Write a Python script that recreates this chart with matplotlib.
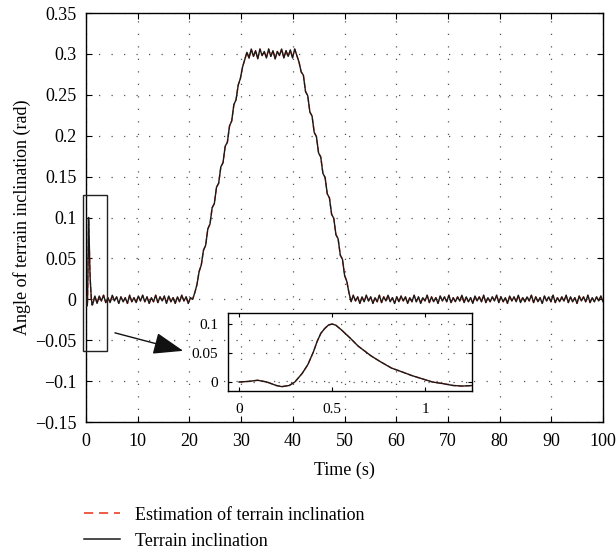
import numpy as np
import matplotlib
matplotlib.use("Agg")
import matplotlib.pyplot as plt
from matplotlib.lines import Line2D

plt.rcParams['font.family'] = ['Liberation Serif', 'DejaVu Serif']
plt.rcParams['axes.unicode_minus'] = True

# ---- data ----
# initial transient (also shown in the inset)
spike_t = [0.00, 0.05, 0.10, 0.15, 0.20, 0.23, 0.27, 0.30, 0.34, 0.37, 0.40, 0.42,
           0.44, 0.46, 0.48, 0.50, 0.52, 0.55, 0.60, 0.64, 0.71, 0.76, 0.82, 0.88,
           0.93, 1.00, 1.04, 1.10, 1.15, 1.20, 1.26]
spike_v = [0.000, 0.001, 0.003, 0.000, -0.006, -0.008, -0.006, 0.000, 0.015, 0.030,
           0.052, 0.070, 0.084, 0.092, 0.098, 0.100, 0.098, 0.090, 0.075, 0.062,
           0.045, 0.035, 0.024, 0.017, 0.011, 0.004, 0.000, -0.003, -0.006, -0.007,
           -0.006]

# sampled signal after the transient (start 1.3 s, step 0.42 s)
t_start = 1.3
t_step = 0.42
flat_before = [-0.006, 0.004, -0.005, 0.004, -0.002, 0.005, -0.004, 0.002, -0.004, 0.005,
               -0.002, 0.003, -0.005, 0.003, -0.003, 0.002, -0.005, 0.005, -0.003, 0.002,
               -0.004, 0.004, -0.002, 0.005, -0.003, 0.003, -0.005, 0.002, -0.003, 0.005,
               -0.004, 0.003, -0.002, 0.004, -0.005, 0.004, -0.003, 0.002, -0.005, 0.003,
               -0.003, 0.005, -0.002, 0.003, -0.005, 0.002, 0.000]
rise = [0.008, 0.018, 0.034, 0.042, 0.060, 0.066, 0.086, 0.092, 0.112, 0.117,
        0.137, 0.142, 0.162, 0.167, 0.187, 0.192, 0.212, 0.218, 0.238, 0.244,
        0.262, 0.270, 0.284]
plateau = [0.293, 0.302, 0.295, 0.306, 0.297, 0.304, 0.294, 0.306, 0.298, 0.303,
           0.295, 0.306, 0.297, 0.304, 0.294, 0.303, 0.298, 0.306, 0.295, 0.304,
           0.297, 0.305, 0.295, 0.306, 0.298]
fall = [0.290, 0.278, 0.274, 0.254, 0.249, 0.229, 0.224, 0.204, 0.199, 0.179,
        0.174, 0.154, 0.149, 0.129, 0.124, 0.104, 0.099, 0.079, 0.074, 0.054,
        0.049, 0.029, 0.022, 0.008]
flat_after = [-0.003, 0.005, -0.002, 0.003, -0.005, 0.003, -0.003, 0.005, -0.002, 0.003,
              -0.005, 0.002, -0.003, 0.005, -0.004, 0.003, -0.002, 0.005, -0.003, 0.002,
              -0.005, 0.003, -0.003, 0.004, -0.002, 0.003, -0.005, 0.002, -0.003, 0.005,
              -0.003, 0.003, -0.005, 0.002, -0.002, 0.005, -0.004, 0.003, -0.003, 0.002,
              -0.005, 0.004, -0.002, 0.003, -0.003, 0.005, -0.004, 0.002, -0.003, 0.003,
              -0.002, 0.005, -0.004, 0.003, -0.003, 0.002, -0.005, 0.004, -0.002, 0.003,
              -0.003, 0.005, -0.004, 0.002, -0.003, 0.003, -0.002, 0.005, -0.004, 0.003,
              -0.003, 0.002, -0.005, 0.004, -0.002, 0.003, -0.003, 0.005, -0.004, 0.002,
              -0.003, 0.003, -0.002, 0.005, -0.004, 0.003, -0.003, 0.002, -0.005, 0.004,
              -0.002, 0.003, -0.003, 0.005, -0.004, 0.002, -0.003, 0.003, -0.002, 0.005,
              -0.004, 0.003, -0.003, 0.002, -0.005, 0.004, -0.002, 0.003, -0.003, 0.005,
              -0.004, 0.002, -0.003, 0.003, -0.002, 0.004, -0.003]

x_ticks = [0, 10, 20, 30, 40, 50, 60, 70, 80, 90, 100]
y_ticks = [-0.15, -0.1, -0.05, 0, 0.05, 0.1, 0.15, 0.2, 0.25, 0.3, 0.35]
y_ticklabels = ['\u22120.15', '\u22120.1', '\u22120.05', '0', '0.05', '0.1', '0.15',
                '0.2', '0.25', '0.3', '0.35']
inset_xticks = [0, 0.5, 1]
inset_xticklabels = ['0', '0.5', '1']
inset_yticks = [0, 0.05, 0.1]
inset_yticklabels = ['0', '0.05', '0.1']

labels = ['Estimation of terrain inclination', 'Terrain inclination']
est_color = '#ec4128'
true_color = '#1a1a1a'

# ---- build series ----
body = flat_before + rise + plateau + fall + flat_after
body_t = t_start + t_step * np.arange(len(body))
terrain_t = np.concatenate([spike_t, body_t])
terrain_v = np.concatenate([spike_v, body])
estimate_t = terrain_t
estimate_v = terrain_v.copy()

fig = plt.figure(figsize=(6.16, 5.52), dpi=100)
ax = fig.add_axes([0.1396, 0.2355, 0.8394, 0.7409])

fs = 13
grid_kw = dict(color='#555555', linestyle=(0, (1, 9)), linewidth=0.9)

ax.plot(estimate_t, estimate_v, color=est_color, lw=1.0, ls='--', zorder=3)
ax.plot(terrain_t, terrain_v, color=true_color, lw=1.0, zorder=4)

ax.set_xlim(0, 100)
ax.set_ylim(-0.15, 0.35)
ax.set_xticks(x_ticks)
ax.set_xticklabels([str(v) for v in x_ticks])
ax.set_yticks(y_ticks)
ax.set_yticklabels(y_ticklabels)
ax.tick_params(direction='in', top=True, right=True, length=4, width=0.8,
               labelsize=fs, pad=7)
ax.tick_params(axis='x', pad=8)
ax.grid(True, **grid_kw)
for s in ax.spines.values():
    s.set_linewidth(1.0)
ax.set_xlabel('Time (s)', fontsize=fs, labelpad=8)
ax.set_ylabel('Angle of terrain inclination (rad)', fontsize=fs, labelpad=3)

# zoom rectangle
rect = plt.Rectangle((-0.6, -0.063), 4.7, 0.191, fill=False, edgecolor='#222222',
                     lw=1.0, clip_on=False, zorder=5)
ax.add_patch(rect)
# arrow
ax.annotate('', xy=(18.8, -0.063), xytext=(5.6, -0.041),
            arrowprops=dict(arrowstyle='-|>,head_length=1.1,head_width=0.4',
                            color='#111111', lw=1.0, mutation_scale=17,
                            shrinkA=0, shrinkB=0), zorder=6)

# inset
axin = fig.add_axes([0.3696, 0.2922, 0.3971, 0.1408])
axin.patch.set_alpha(0.0)
axin.plot(spike_t, spike_v, color=est_color, lw=1.0, ls='--', zorder=3)
axin.plot(spike_t, spike_v, color=true_color, lw=1.0, zorder=4)
axin.set_xlim(-0.061, 1.254)
axin.set_ylim(-0.015, 0.119)
axin.set_xticks(inset_xticks)
axin.set_xticklabels(inset_xticklabels)
axin.set_yticks(inset_yticks)
axin.set_yticklabels(inset_yticklabels)
axin.tick_params(direction='in', top=True, right=True, length=3, width=0.8,
                 labelsize=11, pad=7)
axin.tick_params(axis='x', pad=9)
axin.grid(True, axis='y', **grid_kw)
for s in axin.spines.values():
    s.set_linewidth(1.0)

# legend
handles = [Line2D([], [], color=est_color, ls=(0, (5.5, 3.5)), lw=1.2),
           Line2D([], [], color=true_color, lw=1.1)]
fig.legend(handles, labels, loc='upper left', bbox_to_anchor=(0.125, 0.095),
           frameon=False, fontsize=fs, handlelength=2.0, handletextpad=0.8,
           labelspacing=0.5, borderaxespad=0)

fig.savefig('out.png', dpi=100)
